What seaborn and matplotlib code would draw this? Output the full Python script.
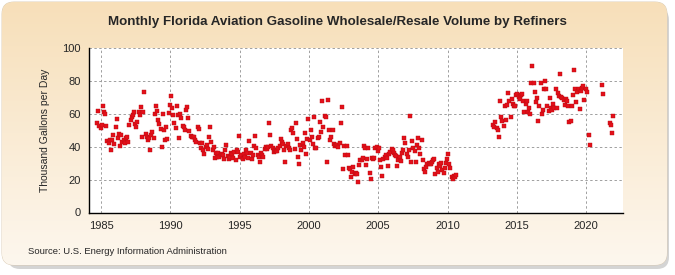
import numpy as np
import pandas as pd
import matplotlib
matplotlib.use("Agg")
import matplotlib.pyplot as plt
import seaborn as sns
from matplotlib.patches import FancyBboxPatch

nan = np.nan

# Monthly values (thousand gallons per day), Jan..Dec for each year
y1985 = [54.7, 61.4, 52.6, 51.2, 53.2, 64.9, 60.8, 60.0, 52.6, 43.6, 42.0, 44.0]
y1986 = [37.9, 44.0, 47.0, 41.6, 51.8, 56.7, 45.0, 47.7, 40.3, 47.0, 43.0, 44.0]
y1987 = [42.0, 45.0, 46.0, 43.0, 53.0, 56.0, 58.0, 59.0, 61.0, 54.0, 52.0, 55.0]
y1988 = [61.0, 59.0, 64.0, 46.0, 61.0, 73.0, 48.0, 46.0, 44.0, 45.0, 38.0, 47.0]
y1989 = [49.0, 45.0, 60.0, 65.0, 62.0, 56.0, 54.0, 51.0, 40.0, 60.0, 50.0, 44.0]
y1990 = [51.8, 44.4, 60.4, 65.5, 71.0, 63.5, 59.4, 54.3, 51.2, 64.9, 59.4, 45.0]
y1991 = [60.0, 57.3, 52.6, 51.8, 50.2, 62.5, 64.0, 57.3, 49.8, 46.5, 46.0, 45.6]
y1992 = [45.6, 44.0, 43.0, 51.8, 50.6, 42.0, 39.5, 42.4, 38.0, 35.8, 40.0, 41.0]
y1993 = [38.9, 46.0, 51.8, 43.0, 37.9, 40.0, 33.4, 36.2, 33.8, 36.0, 34.0, 35.0]
y1994 = [35.8, 34.8, 32.7, 37.9, 41.0, 34.5, 32.5, 33.8, 36.0, 35.8, 33.0, 37.0]
y1995 = [32.2, 37.9, 36.9, 46.5, 33.8, 34.8, 32.7, 35.8, 34.0, 38.0, 36.0, 33.0]
y1996 = [43.6, 35.9, 32.8, 34.8, 40.4, 46.5, 39.0, 34.8, 33.8, 30.7, 36.0, 35.0]
y1997 = [33.8, 38.9, 40.0, 38.5, 40.0, 54.7, 47.1, 40.3, 39.0, 36.9, 37.9, 37.5]
y1998 = [37.5, 39.0, 40.3, 44.9, 42.9, 41.5, 38.0, 30.7, 40.3, 41.9, 39.0, 38.0]
y1999 = [50.2, 51.2, 48.6, 38.9, 54.3, 44.5, 33.8, 29.3, 41.0, 38.0, 42.0, 40.0]
y2000 = [48.6, 35.5, 44.9, 56.7, 44.0, 50.2, 46.1, 41.9, 58.0, 39.5, 39.0, 45.0]
y2001 = [45.7, 55.3, 49.1, 67.6, 51.8, 58.8, 58.0, 30.7, 68.6, 50.2, 44.0, 46.0]
y2002 = [50.2, 41.9, 40.4, 41.0, 40.8, 40.0, 42.0, 54.7, 64.0, 26.6, 40.4, 34.8]
y2003 = [40.3, 34.8, 27.2, 26.6, 21.5, 24.5, 27.6, 23.5, 24.0, 23.2, 18.4, 28.7]
y2004 = [31.7, 32.1, 33.0, 40.3, 39.5, 28.6, 32.7, 39.5, 23.9, 20.4, 33.4, 32.8]
y2005 = [33.4, 39.5, 39.9, 37.5, 39.5, 32.1, 27.6, 21.9, 32.7, 34.0, 35.0, 33.0]
y2006 = [28.0, 35.4, 36.8, 38.9, 37.9, 36.2, 34.8, 34.2, 28.0, 32.1, 33.8, 31.3]
y2007 = [36.2, 37.9, 45.0, 42.4, 35.4, 33.8, 38.0, 58.8, 30.7, 43.6, 39.5, 37.5]
y2008 = [30.7, 41.0, 45.0, 39.0, 35.8, 44.0, 32.1, 26.6, 24.5, 27.6, 29.7, 30.0]
y2009 = [29.7, 29.3, 30.7, 31.8, 32.8, 23.2, 27.3, 24.6, 29.7, 28.0, 30.0, 26.0]
y2010 = [24.0, 27.3, 30.1, 32.8, 35.5, 29.7, 27.0, 21.5, 20.5, 21.9, 21.5, 22.5]
y2011 = [nan] * 12
y2012 = [nan] * 12
y2013 = [nan, nan, nan, nan, nan, nan, nan, 53.3, 51.8, 55.3, 51.2, 50.2]
y2014 = [46.0, 67.6, 57.8, 55.9, 52.3, 65.0, 56.4, 65.6, 72.7, 67.6, 57.8, 69.0]
y2015 = [66.2, 65.0, 64.5, 71.7, 72.1, 70.3, 69.0, 71.7, 72.3, 67.6, 60.9, 66.0]
y2016 = [67.6, 60.9, 63.5, 60.0, 78.9, 89.1, 78.9, 73.2, 67.0, 69.7, 55.9, 65.0]
y2017 = [78.9, 60.0, 62.5, 74.8, 79.9, 75.2, 65.0, 62.0, 69.7, 63.5, 62.5, 66.2]
y2018 = [63.5, 75.2, 63.5, 72.7, 71.1, 84.0, 70.3, 69.7, 68.6, 65.6, 69.0, 67.6]
y2019 = [65.0, 55.3, 55.9, 65.0, 71.7, 86.7, 75.2, 67.0, 73.2, 74.8, 62.9, 73.8]
y2020 = [75.8, 76.8, 68.2, 74.8, 73.2, nan, 47.1, 41.0, nan, nan, nan, nan]
y2021 = [nan, nan, nan, nan, nan, 77.4, 71.9, nan, nan, nan, nan, nan]
y2022 = [54.7, 53.4, 48.5, 58.4]

tick_years = [1985, 1990, 1995, 2000, 2005, 2010, 2015, 2020]
y_ticks = [0, 20, 40, 60, 80, 100]

series = {
    1985: y1985, 1986: y1986, 1987: y1987, 1988: y1988, 1989: y1989,
    1990: y1990, 1991: y1991, 1992: y1992, 1993: y1993, 1994: y1994,
    1995: y1995, 1996: y1996, 1997: y1997, 1998: y1998, 1999: y1999,
    2000: y2000, 2001: y2001, 2002: y2002, 2003: y2003, 2004: y2004,
    2005: y2005, 2006: y2006, 2007: y2007, 2008: y2008, 2009: y2009,
    2010: y2010, 2011: y2011, 2012: y2012, 2013: y2013, 2014: y2014,
    2015: y2015, 2016: y2016, 2017: y2017, 2018: y2018, 2019: y2019,
    2020: y2020, 2021: y2021, 2022: y2022,
}
rows = []
for yr, vals in series.items():
    for m, v in enumerate(vals):
        rows.append({"t": yr + m / 12.0, "value": v})
df = pd.DataFrame(rows).dropna()

sns.set_style("white")
plt.rcParams['font.family'] = ['Liberation Sans Narrow', 'Liberation Sans', 'DejaVu Sans']

W, H = 675, 275
fig = plt.figure(figsize=(W / 100, H / 100), dpi=100)
fig.patch.set_facecolor("white")

# background panel with gradient + shadow
bg = fig.add_axes([0, 0, 1, 1])
bg.set_xlim(0, W)
bg.set_ylim(H, 0)
bg.axis("off")
shadow = FancyBboxPatch((8, 8), W - 14, H - 14, boxstyle="round,pad=0,rounding_size=12",
                        fc="#b8b8b8", ec="none", alpha=0.6)
bg.add_patch(shadow)
panel = FancyBboxPatch((2, 2), W - 10, H - 12, boxstyle="round,pad=0,rounding_size=12",
                       fc="none", ec="#d8c8b0", lw=0.6)
bg.add_patch(panel)
grad = np.linspace(0, 1, 256).reshape(-1, 1)
top = np.array([247, 223, 185]) / 255.0
bot = np.array([253, 247, 238]) / 255.0
img = top[None, None, :] * (1 - grad[:, :, None]) + bot[None, None, :] * grad[:, :, None]
im = bg.imshow(img, extent=[2, W - 8, H - 10, 2], aspect="auto", zorder=1)
im.set_clip_path(panel)

ax = fig.add_axes([89 / W, 1 - 212.5 / H, (623 - 89) / W, (212.5 - 48) / H])
ax.set_facecolor("white")
sns.scatterplot(data=df, x="t", y="value", ax=ax, marker="s", s=11,
                color="#e3101a", edgecolor="#b80a10", linewidth=0.3, zorder=3)

offset = 0.29
ax.set_xlim(1984.42, 2022.95)
ax.set_ylim(0, 100)
ax.set_xticks([y + offset for y in tick_years])
ax.set_xticklabels([str(y) for y in tick_years])
ax.set_yticks(y_ticks)
ax.set_yticklabels([str(v) for v in y_ticks])
ax.grid(True, color="#a0a0a0", linestyle=(0, (2.5, 2.5)), linewidth=0.7)
ax.set_axisbelow(True)
for s in ["top", "right"]:
    ax.spines[s].set_visible(False)
for s in ["left", "bottom"]:
    ax.spines[s].set_color("black")
    ax.spines[s].set_linewidth(1.0)
ax.tick_params(axis="both", direction="out", length=4, width=0.8, color="black",
               labelsize=8, pad=2)
ax.set_xlabel("")
ax.set_ylabel("Thousand Gallons per Day", fontsize=7.5, labelpad=9)

fig.text(0.5, 1 - 22 / H, "Monthly Florida Aviation Gasoline Wholesale/Resale Volume by Refiners",
         ha="center", va="center", fontsize=9.6, fontweight="bold")
fig.text(28 / W, 1 - 252 / H, "Source: U.S. Energy Information Administration",
         ha="left", va="center", fontsize=6.8)

fig.savefig("out.png", dpi=100)
